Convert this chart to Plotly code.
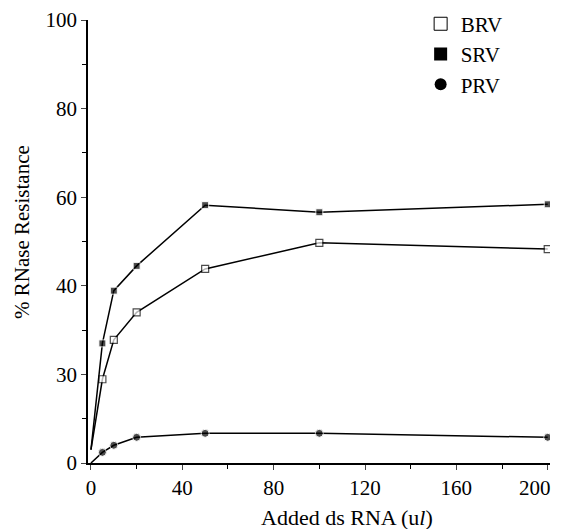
import plotly.graph_objects as go

x_vals = [0, 5, 10, 20, 50, 100, 200]
brv = [3, 18.9, 27.8, 34.0, 43.8, 49.7, 48.3]
srv = [3, 27.0, 38.9, 44.5, 58.2, 56.6, 58.4]
prv = [0, 2.4, 4.0, 5.8, 6.7, 6.7, 5.8]

y_tickvals = [0, 20, 40, 60, 80, 100]
y_ticktext = ["0", "30", "40", "60", "80", "100"]
x_tickvals = [0, 40, 80, 120, 160, 200]
x_ticktext = ["0", "40", "80", "120", "160", ""]
last_x_label = "200"

FONT = "Liberation Serif, Times New Roman, serif"

def sizes(n, s):
    return [0] + [s] * (n - 1)

fig = go.Figure()
plot_markers = {
    "BRV": dict(symbol="square", size=sizes(len(x_vals), 7), color="white", line=dict(width=1.2, color="black")),
    "SRV": dict(symbol="square", size=sizes(len(x_vals), 7), color="black"),
    "PRV": dict(symbol="circle", size=sizes(len(x_vals), 8), color="black"),
}
legend_markers = {
    "BRV": dict(symbol="square", size=13, color="white", line=dict(width=1, color="black")),
    "SRV": dict(symbol="square", size=13, color="black"),
    "PRV": dict(symbol="circle", size=12, color="black"),
}
for name, ys in [("BRV", brv), ("SRV", srv), ("PRV", prv)]:
    fig.add_trace(go.Scatter(x=x_vals, y=ys, mode="lines+markers", name=name,
                             line=dict(color="black", width=1.5), marker=plot_markers[name],
                             showlegend=False))
for name in ["BRV", "SRV", "PRV"]:
    fig.add_trace(go.Scatter(x=[None], y=[None], mode="markers", name=name,
                             marker=legend_markers[name], showlegend=True))

# page has an 8px body margin, so the figure is 8px smaller
fig.update_layout(
    width=557, height=521,
    margin=dict(l=80, r=15, t=12, b=66, autoexpand=False),
    paper_bgcolor="white", plot_bgcolor="white",
    font=dict(family=FONT, color="black", size=20),
    legend=dict(x=0.72, y=1.037, xanchor="left", yanchor="top",
                bgcolor="rgba(0,0,0,0)", font=dict(size=21, family=FONT),
                tracegroupgap=0, itemwidth=30),
    xaxis=dict(range=[-1.3, 201], tickvals=x_tickvals, ticktext=x_ticktext,
               ticks="outside", ticklen=5,
               tickwidth=1.2, showline=True, linecolor="black", linewidth=1.5,
               showgrid=False, zeroline=False, automargin=False,
               minor=dict(tickvals=[20, 60, 100, 140, 180], ticks="outside", ticklen=4, tickcolor="black"),
               tickfont=dict(size=21)),
    yaxis=dict(range=[0, 100], tickvals=y_tickvals, ticktext=y_ticktext, ticks="outside",
               ticklen=5, tickwidth=1.2, showline=True, linecolor="black", linewidth=1.5,
               showgrid=False, zeroline=False, automargin=False,
               minor=dict(tickvals=[10, 30, 50, 70, 90], ticks="outside", ticklen=4, tickcolor="black"),
               tickfont=dict(size=21)),
    annotations=[
        dict(text=last_x_label, xref="x", yref="paper", x=x_tickvals[-1], y=0,
             xanchor="right", yanchor="middle", xshift=5, yshift=-25,
             showarrow=False, font=dict(size=21, family=FONT)),
        dict(text="Added ds RNA (u<i>l</i>)", xref="paper", yref="paper",
             x=(347 - 88) / 462, y=-(517 - 463) / 443, xanchor="center", yanchor="middle",
             showarrow=False, font=dict(size=22, family=FONT)),
        dict(text="% RNase Resistance", xref="paper", yref="paper",
             x=-(88 - 22) / 462, y=(463 - 232) / 443, xanchor="center", yanchor="middle",
             textangle=-90, showarrow=False, font=dict(size=21, family=FONT)),
    ],
)

fig.write_html("out.html")
